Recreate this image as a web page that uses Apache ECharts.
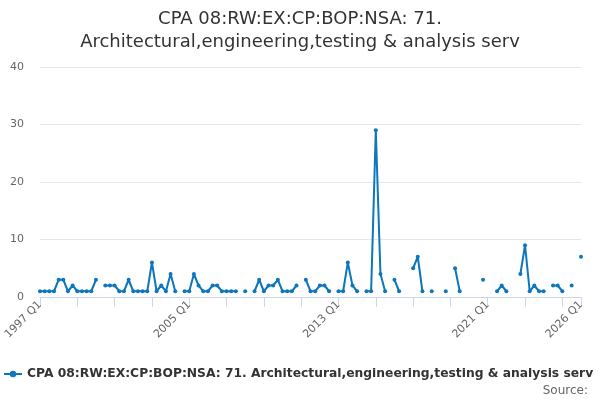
<!DOCTYPE html>
<html>
<head>
<meta charset="utf-8">
<script src="https://cdn.jsdelivr.net/npm/echarts@6/dist/echarts.min.js"></script>
<style>html,body{margin:0;padding:0;background:#fff;}#c{width:600px;height:400px;}</style>
</head>
<body>
<div id="c"></div>
<script>
const seriesName = 'CPA 08:RW:EX:CP:BOP:NSA: 71. Architectural,engineering,testing & analysis serv';
const titleText = 'CPA 08:RW:EX:CP:BOP:NSA: 71.\nArchitectural,engineering,testing & analysis serv';
const startYear = 1997;
const endYear = 2026;
const categories = [];
for (let y = startYear; y <= endYear; y++) {
  for (let q = 1; q <= 4; q++) {
    if (y === endYear && q > 1) break;
    categories.push(y + ' Q' + q);
  }
}
const values = [
  1, 1, 1, 1, 3, 3, 1, 2, 1, 1, 1, 1, 3, null,
  2, 2, 2, 1, 1, 3, 1, 1, 1, 1, 6, 1, 2, 1, 4, 1, null,
  1, 1, 4, 2, 1, 1, 2, 2, 1, 1, 1, 1, null, 1, null,
  1, 3, 1, 2, 2, 3, 1, 1, 1, 2, null,
  3, 1, 1, 2, 2, 1, null,
  1, 1, 6, 2, 1, null, 1, 1, 29, 4, 1, null, 3, 1, null, null,
  5, 7, 1, null, 1, null, null, 1, null, 5, 1,
  null, null, null, null, 3, null, null, 1, 2, 1, null, null,
  4, 9, 1, 2, 1, 1, null, 2, 2, 1, null, 2, null, 7
];
const yTicks = [0, 10, 20, 30, 40];
const lastIndex = categories.length - 1;

const chart = echarts.init(document.getElementById('c'));
chart.setOption({
  animation: false,
  backgroundColor: '#ffffff',
  textStyle: { fontFamily: 'DejaVu Sans' },
  title: {
    text: titleText,
    left: 'center',
    top: 3,
    textStyle: { fontFamily: 'DejaVu Sans', fontSize: 18, fontWeight: 'normal', color: '#333333', lineHeight: 23 }
  },
  legend: {
    data: [seriesName],
    left: 3,
    top: 368,
    padding: 0,
    itemWidth: 18,
    itemHeight: 8,
    itemGap: 5,
    textStyle: { fontFamily: 'DejaVu Sans', fontSize: 12.3, fontWeight: 'bold', color: '#333333' }
  },
  graphic: [{
    type: 'text',
    right: 12,
    top: 385,
    style: { text: 'Source:', fontFamily: 'DejaVu Sans', fontSize: 12, fill: '#666666' }
  }],
  grid: { left: 40, right: 19, top: 67, bottom: 103 },
  xAxis: {
    type: 'category',
    data: categories,
    boundaryGap: false,
    axisLine: { lineStyle: { color: '#ccd6eb' } },
    axisTick: {
      length: 10,
      lineStyle: { color: '#ccd6eb' },
      interval: function (i) { return i % 8 === 0 || i === lastIndex; }
    },
    axisLabel: {
      rotate: 45,
      color: '#666666',
      fontSize: 11,
      fontFamily: 'DejaVu Sans',
      margin: 6,
      interval: function (i) { return i % 32 === 0 || i === lastIndex; }
    },
    splitLine: { show: false }
  },
  yAxis: {
    type: 'value',
    min: yTicks[0],
    max: yTicks[yTicks.length - 1],
    interval: 10,
    axisLine: { show: false },
    axisTick: { show: false },
    axisLabel: { color: '#666666', fontSize: 11, fontFamily: 'DejaVu Sans', margin: 16 },
    splitLine: { lineStyle: { color: '#e6e6e6' } }
  },
  series: [{
    name: seriesName,
    type: 'line',
    data: values,
    connectNulls: false,
    showAllSymbol: true,
    symbol: 'circle',
    symbolSize: 4,
    itemStyle: { color: '#0d76bd' },
    lineStyle: { color: '#0d76bd', width: 2 }
  }]
});
</script>
</body>
</html>
